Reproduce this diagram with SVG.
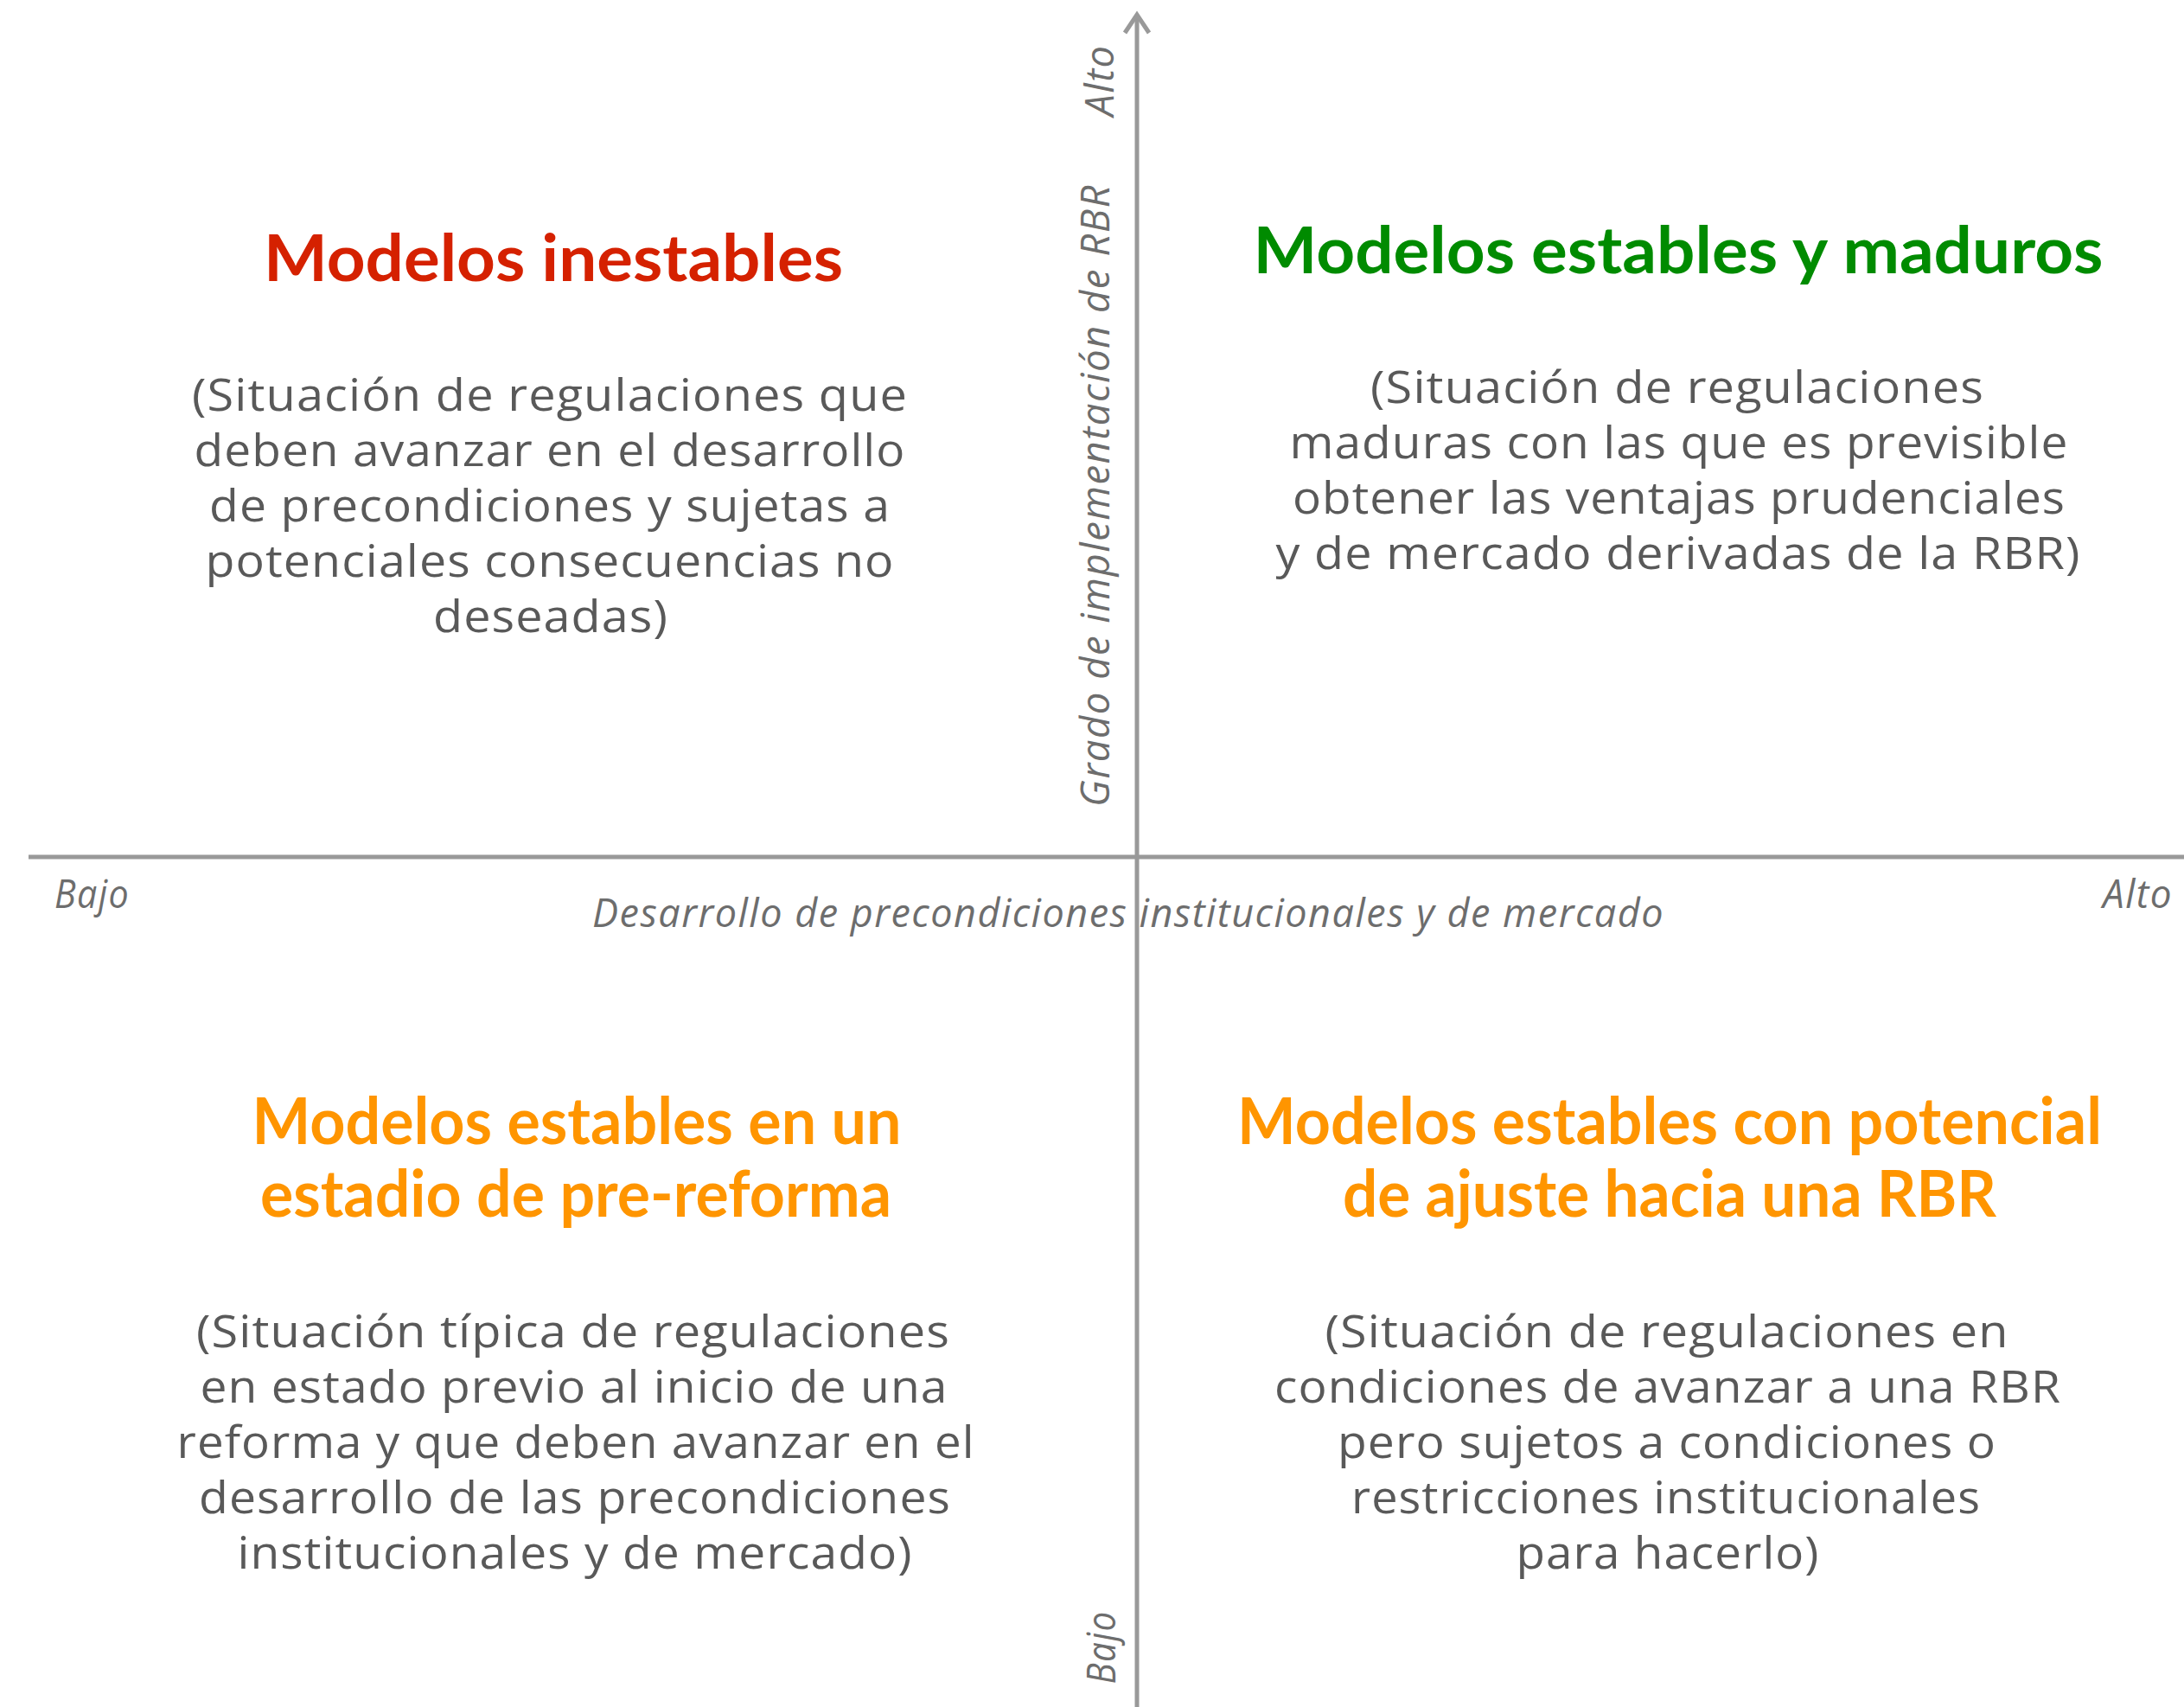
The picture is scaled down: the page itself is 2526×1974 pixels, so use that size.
<svg xmlns="http://www.w3.org/2000/svg" width="2526" height="1974" viewBox="0 0 2526 1974">
<style>
.axis{stroke:#999999;stroke-width:5;fill:none}
.ax{font-family:"Open Sans","Liberation Sans",sans-serif;font-style:italic;font-size:45px;fill:#6d6d6d;letter-spacing:1.5px}
.body{font-family:"Open Sans","Liberation Sans",sans-serif;font-size:51px;fill:#595959;text-anchor:middle;letter-spacing:1px}
.head{font-family:Lato,"Liberation Sans",sans-serif;font-weight:700;font-size:75px;text-anchor:middle}
.red{fill:#D52100}.green{fill:#008B00}.orange{fill:#FF9500}
</style>
<rect width="2526" height="1974" fill="#ffffff"/>
<g id="connectors">
<line class="axis" x1="33" y1="991" x2="2526" y2="991"/>
<line class="axis" x1="1315" y1="1974" x2="1315" y2="18"/>
<polyline class="axis" points="1301,38 1315,17 1329,38"/>
</g>
<g id="axis-labels">
<text class="ax" x="63" y="1050" textLength="87" lengthAdjust="spacingAndGlyphs">Bajo</text>
<text class="ax" x="2513" y="1050" text-anchor="end" textLength="81" lengthAdjust="spacingAndGlyphs">Alto</text>
<text class="ax" x="1305" y="1072" text-anchor="middle" textLength="1240" lengthAdjust="spacingAndGlyphs">Desarrollo de precondiciones institucionales y de mercado</text>
<text class="ax" x="1283" y="573" text-anchor="middle" textLength="720" lengthAdjust="spacingAndGlyphs" transform="rotate(-90 1283 573)">Grado de implementación de RBR</text>
<text class="ax" x="1288" y="93" text-anchor="middle" textLength="83" lengthAdjust="spacingAndGlyphs" transform="rotate(-90 1288 93)">Alto</text>
<text class="ax" x="1290" y="1905" text-anchor="middle" textLength="85" lengthAdjust="spacingAndGlyphs" transform="rotate(-90 1290 1905)">Bajo</text>
</g>
<g id="q-top-left">
<text class="head red" x="640" y="325" textLength="670" lengthAdjust="spacingAndGlyphs">Modelos inestables</text>
<text class="body" x="636" y="475" textLength="828" lengthAdjust="spacingAndGlyphs">(Situación de regulaciones que</text>
<text class="body" x="636" y="539" textLength="823" lengthAdjust="spacingAndGlyphs">deben avanzar en el desarrollo</text>
<text class="body" x="636" y="603" textLength="788" lengthAdjust="spacingAndGlyphs">de precondiciones y sujetas a</text>
<text class="body" x="636" y="667" textLength="797" lengthAdjust="spacingAndGlyphs">potenciales consecuencias no</text>
<text class="body" x="637" y="731" textLength="272" lengthAdjust="spacingAndGlyphs">deseadas)</text>
</g>
<g id="q-top-right">
<text class="head green" x="1941" y="316" textLength="983" lengthAdjust="spacingAndGlyphs">Modelos estables y maduros</text>
<text class="body" x="1940" y="466" textLength="710" lengthAdjust="spacingAndGlyphs">(Situación de regulaciones</text>
<text class="body" x="1942" y="530" textLength="901" lengthAdjust="spacingAndGlyphs">maduras con las que es previsible</text>
<text class="body" x="1942" y="594" textLength="894" lengthAdjust="spacingAndGlyphs">obtener las ventajas prudenciales</text>
<text class="body" x="1941" y="658" textLength="931" lengthAdjust="spacingAndGlyphs">y de mercado derivadas de la RBR)</text>
</g>
<g id="q-bottom-left">
<text class="head orange" x="667" y="1323" textLength="751" lengthAdjust="spacingAndGlyphs">Modelos estables en un</text>
<text class="head orange" x="666" y="1407" textLength="730" lengthAdjust="spacingAndGlyphs">estadio de pre-reforma</text>
<text class="body" x="663" y="1558" textLength="872" lengthAdjust="spacingAndGlyphs">(Situación típica de regulaciones</text>
<text class="body" x="664" y="1622" textLength="865" lengthAdjust="spacingAndGlyphs">en estado previo al inicio de una</text>
<text class="body" x="666" y="1686" textLength="923" lengthAdjust="spacingAndGlyphs">reforma y que deben avanzar en el</text>
<text class="body" x="665" y="1750" textLength="870" lengthAdjust="spacingAndGlyphs">desarrollo de las precondiciones</text>
<text class="body" x="665" y="1814" textLength="781" lengthAdjust="spacingAndGlyphs">institucionales y de mercado)</text>
</g>
<g id="q-bottom-right">
<text class="head orange" x="1931" y="1323" textLength="1000" lengthAdjust="spacingAndGlyphs">Modelos estables con potencial</text>
<text class="head orange" x="1931" y="1407" textLength="756" lengthAdjust="spacingAndGlyphs">de ajuste hacia una RBR</text>
<text class="body" x="1928" y="1558" textLength="791" lengthAdjust="spacingAndGlyphs">(Situación de regulaciones en</text>
<text class="body" x="1929" y="1622" textLength="910" lengthAdjust="spacingAndGlyphs">condiciones de avanzar a una RBR</text>
<text class="body" x="1928" y="1686" textLength="762" lengthAdjust="spacingAndGlyphs">pero sujetos a condiciones o</text>
<text class="body" x="1927" y="1750" textLength="728" lengthAdjust="spacingAndGlyphs">restricciones institucionales</text>
<text class="body" x="1929" y="1814" textLength="351" lengthAdjust="spacingAndGlyphs">para hacerlo)</text>
</g>
</svg>
